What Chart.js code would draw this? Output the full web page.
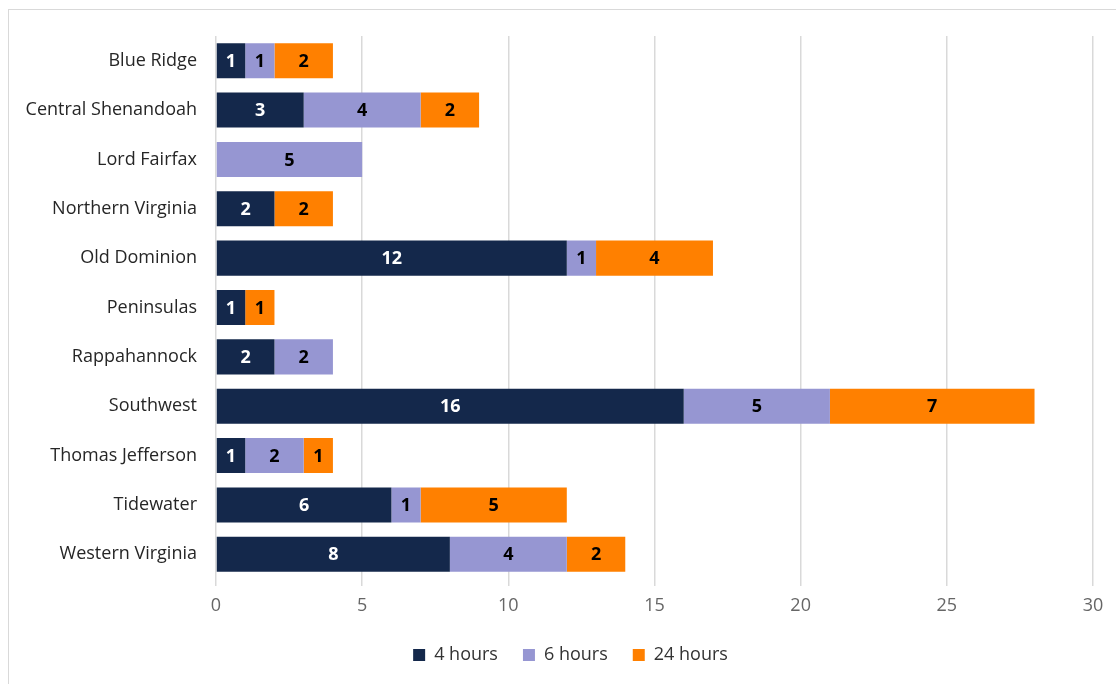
<!DOCTYPE html>
<html>
<head>
<meta charset="utf-8">
<script src="https://cdn.jsdelivr.net/npm/chart.js@4"></script>
<style>
  html,body{margin:0;padding:0;background:#fff;overflow:hidden}
  #wrap{position:relative;width:1116px;height:684px}
  #frame{position:absolute;left:8px;top:9px;width:1200px;height:800px;border:1.5px solid #d9d9d9;box-sizing:border-box}
  canvas{position:absolute;left:0;top:0}
</style>
</head>
<body>
<div id="wrap">
  <div id="frame"></div>
  <canvas id="c" width="1116" height="684"></canvas>
</div>
<script>
const regions=['Blue Ridge','Central Shenandoah','Lord Fairfax','Northern Virginia','Old Dominion','Peninsulas','Rappahannock','Southwest','Thomas Jefferson','Tidewater','Western Virginia'];
const hours4 =[1,3,0,2,12,1,2,16,1,6,8];
const hours6 =[1,4,5,0,1,0,2,5,2,1,4];
const hours24=[2,2,0,2,4,1,0,7,1,5,2];
const seriesNames=['4 hours','6 hours','24 hours'];
const seriesColors=['#14284b','#9696d2','#ff8000'];
const labelColors=['#ffffff','#000000','#000000'];
const xTicks=[0,5,10,15,20,25,30];

const FONT="'Open Sans', sans-serif";

// draws the value in the middle of each segment
const barLabels={id:'barLabels',afterDatasetsDraw(chart){
  const {ctx}=chart;
  ctx.save();
  ctx.font='bold 18px '+FONT;
  ctx.textAlign='center';ctx.textBaseline='middle';
  chart.data.datasets.forEach((ds,i)=>{
    const meta=chart.getDatasetMeta(i);
    meta.data.forEach((el,j)=>{
      const v=ds.data[j]; if(!v) return;
      const p=el.getCenterPoint();
      ctx.fillStyle=labelColors[i];
      ctx.fillText(v,p.x,p.y+1);
    });
  });
  ctx.restore();
}};

// legend sits a bit right of centre in the original
const legendShift={id:'legendShift',beforeDraw(chart){
  const lg=chart.legend; if(!lg||lg._shifted) return;
  lg.left+=24; lg.right+=24; lg._shifted=true;
}};

new Chart(document.getElementById('c'),{
  type:'bar',
  data:{labels:regions,datasets:[hours4,hours6,hours24].map((d,i)=>({
    label:seriesNames[i],data:d,backgroundColor:seriesColors[i],
    barPercentage:0.71,categoryPercentage:1
  }))},
  options:{
    indexAxis:'y',responsive:false,animation:false,
    layout:{padding:{top:36,right:23,left:0,bottom:10}},
    plugins:{
      legend:{position:'bottom',labels:{boxWidth:12,boxHeight:12,padding:25,color:'#333',font:{family:FONT,size:18}}},
      tooltip:{enabled:false}
    },
    scales:{
      x:{stacked:true,min:0,max:30,
        afterBuildTicks(s){s.ticks=xTicks.map(v=>({value:v}));},
        grid:{color:'#d9d9d9',lineWidth:1.5,tickLength:7},
        border:{display:false},
        ticks:{color:'#666',padding:9,font:{family:FONT,size:18}},
        afterFit(s){s.height=42;}
      },
      y:{stacked:true,
        grid:{display:false},border:{display:false},
        ticks:{color:'#262626',padding:11,font:{family:FONT,size:18}},
        afterFit(s){s.width=216;}
      }
    }
  },
  plugins:[barLabels,legendShift]
});
</script>
</body>
</html>
